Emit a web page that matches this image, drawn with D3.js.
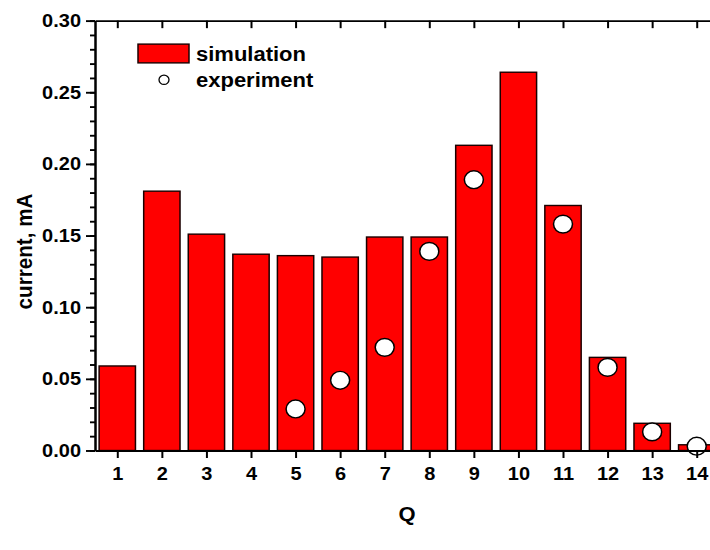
<!DOCTYPE html>
<html>
<head>
<meta charset="utf-8">
<script src="https://cdn.jsdelivr.net/npm/d3@7"></script>
<style>
  html, body { margin: 0; padding: 0; background: #fff; overflow: hidden; }
  svg { display: block; }
  text { font-family: "Liberation Sans", Arial, sans-serif; font-weight: bold; fill: #000; }
</style>
</head>
<body>
<svg id="chart" width="710" height="550" viewBox="0 0 710 586" preserveAspectRatio="none"></svg>
<script>
// Charge-state current distribution: simulated bars vs measured points
const categories = [1, 2, 3, 4, 5, 6, 7, 8, 9, 10, 11, 12, 13, 14];
const simulation = [0.059, 0.181, 0.151, 0.137, 0.136, 0.135, 0.149, 0.149, 0.213, 0.264, 0.171, 0.065, 0.019, 0.004];
const experimentQ = [5, 6, 7, 8, 9, 11, 12, 13, 14];
const experiment = [0.029, 0.049, 0.072, 0.139, 0.189, 0.158, 0.058, 0.013, 0.003];
const yTicks = [0.00, 0.05, 0.10, 0.15, 0.20, 0.25, 0.30];
const yMinorTicks = d3.range(0, 0.3001, 0.01);
const seriesNames = ["simulation", "experiment"];

const svg = d3.select("#chart");

// drawing units: 710 x 586, shown in a 710 x 550 box
const plotLeft = 95, plotRight = 719, plotTop = 22, plotBottom = 480;

const x = d3.scaleLinear().domain([0.5, 14.5]).range([plotLeft, plotRight]);
const y = d3.scaleLinear().domain([0, 0.30]).range([plotBottom, plotTop]);
const barW = (x(1) - x(0)) * 0.815;

// bars
svg.append("g").selectAll("rect")
  .data(categories.map((q, i) => ({ q, v: simulation[i] })))
  .join("rect")
  .attr("x", d => x(d.q) - barW / 2)
  .attr("y", d => y(d.v))
  .attr("width", barW)
  .attr("height", d => y(0) - y(d.v))
  .attr("fill", "#ff0000")
  .attr("stroke", "#1a0000")
  .attr("stroke-width", 1.5);

// measured points
svg.append("g").selectAll("circle")
  .data(experimentQ.map((q, i) => ({ q, v: experiment[i] })))
  .join("circle")
  .attr("cx", d => x(d.q))
  .attr("cy", d => y(d.v))
  .attr("r", 9.5)
  .attr("fill", "#fff")
  .attr("stroke", "#000")
  .attr("stroke-width", 1.5);

// axes
const fmt = d3.format(".2f");
const axisStyle = g => {
  g.select(".domain").attr("stroke", "#000").attr("stroke-width", 2);
  g.selectAll(".tick line").attr("stroke", "#000").attr("stroke-width", 2);
};
const labelStyle = g => g.selectAll("text")
  .attr("font-size", 20).attr("font-family", "Liberation Sans")
  .attr("font-weight", "bold").attr("fill", "#000");

svg.append("g").attr("transform", `translate(${plotLeft},0)`)
  .call(d3.axisLeft(y).tickValues(yTicks).tickFormat(fmt).tickSize(9).tickSizeOuter(0).tickPadding(5))
  .call(axisStyle).call(labelStyle);

svg.append("g").attr("transform", `translate(${plotLeft},0)`)
  .call(d3.axisLeft(y).tickValues(yMinorTicks).tickFormat("").tickSize(5).tickSizeOuter(0))
  .call(axisStyle);

svg.append("g").attr("transform", `translate(0,${plotBottom})`)
  .call(d3.axisBottom(x).tickValues(categories).tickFormat(d3.format("d")).tickSize(8).tickSizeOuter(0).tickPadding(9))
  .call(axisStyle).call(labelStyle);

// frame: top and right axes with inward ticks
svg.append("g").attr("transform", `translate(0,${plotTop})`)
  .call(d3.axisBottom(x).tickValues(categories).tickFormat("").tickSize(8).tickSizeOuter(0))
  .call(axisStyle);
svg.append("g").attr("transform", `translate(${plotRight},0)`)
  .call(d3.axisLeft(y).tickValues(yTicks).tickFormat("").tickSize(9).tickSizeOuter(0))
  .call(axisStyle);

// axis titles
svg.append("text")
  .attr("x", (plotLeft + plotRight) / 2).attr("y", 555)
  .attr("text-anchor", "middle").attr("font-size", 22)
  .text("Q");
svg.append("text")
  .attr("transform", `translate(32,${(plotTop + plotBottom) / 2 + 17}) rotate(-90)`)
  .attr("text-anchor", "middle").attr("font-size", 22)
  .text("current, mA");

// legend
const legend = svg.append("g");
legend.append("rect")
  .attr("x", 138).attr("y", 47).attr("width", 51).attr("height", 20)
  .attr("fill", "#ff0000").attr("stroke", "#1a0000").attr("stroke-width", 1.5);
legend.append("circle")
  .attr("cx", 164).attr("cy", 85).attr("r", 5)
  .attr("fill", "#fff").attr("stroke", "#000").attr("stroke-width", 1.3);
legend.selectAll("text.lbl")
  .data(seriesNames)
  .join("text")
  .attr("class", "lbl")
  .attr("x", 196)
  .attr("y", (d, i) => [65, 93][i])
  .attr("font-size", 22)
  .text(d => d);
</script>
</body>
</html>
